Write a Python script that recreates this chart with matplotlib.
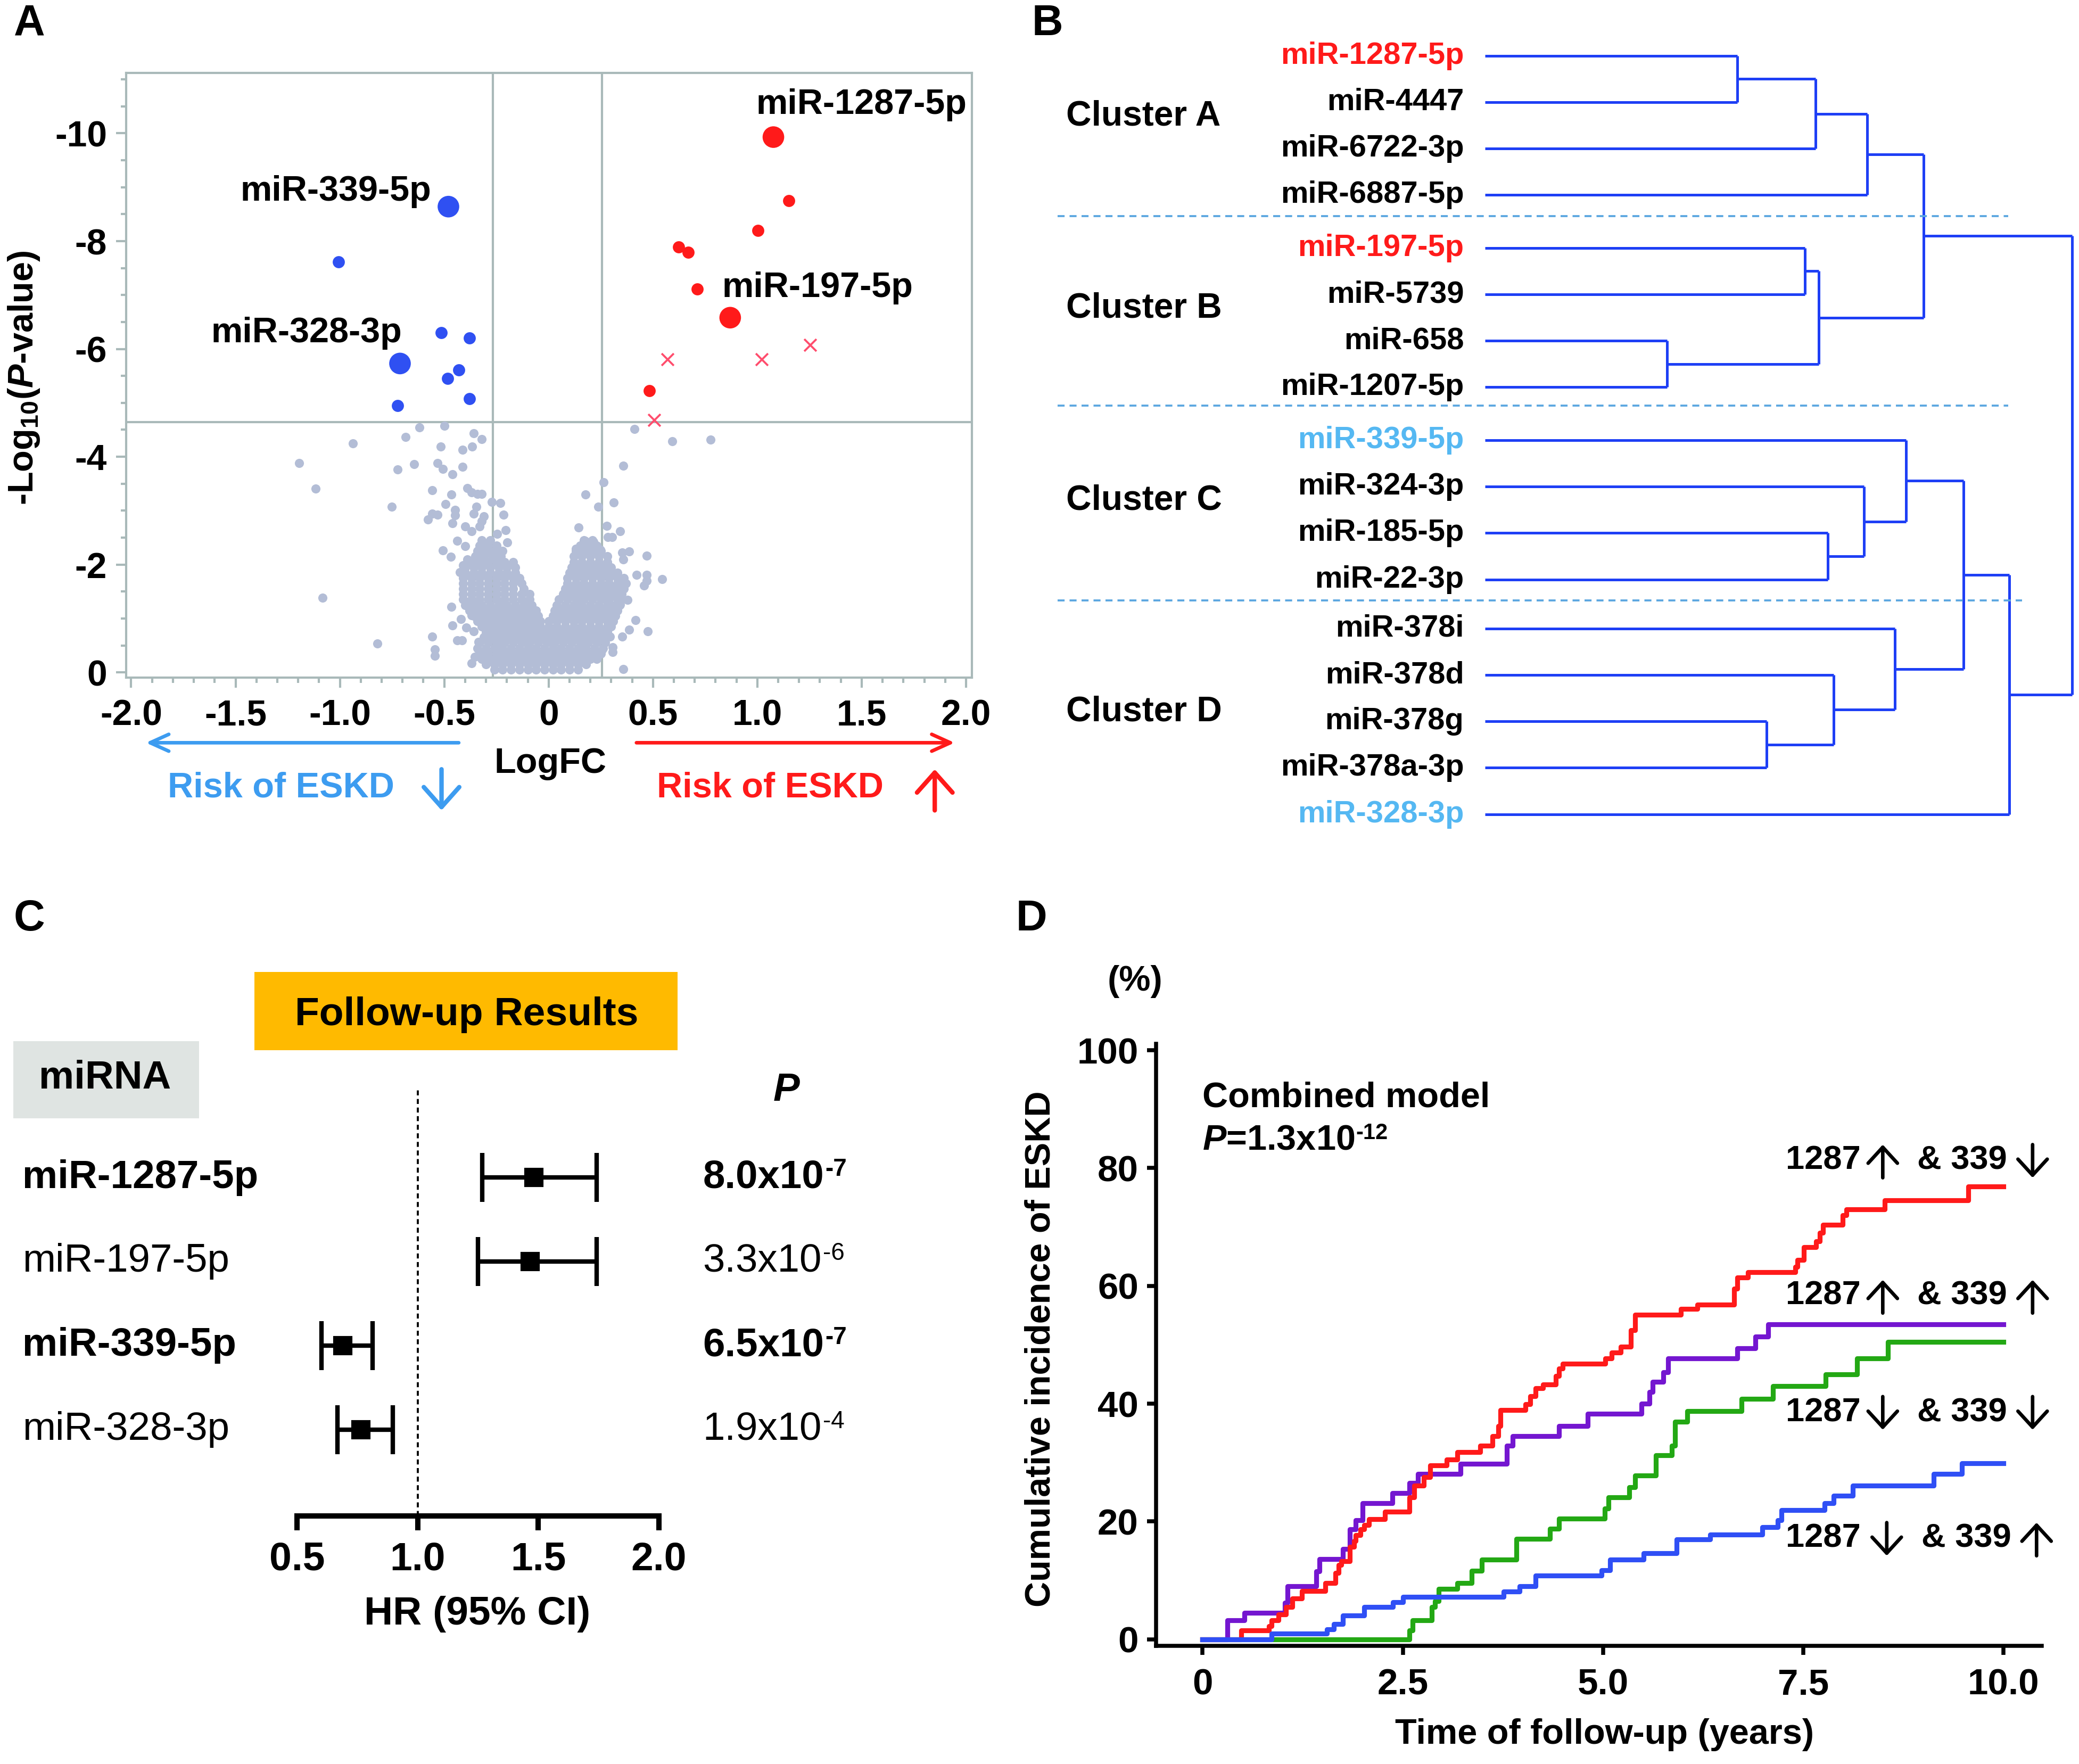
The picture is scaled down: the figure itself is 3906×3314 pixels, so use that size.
# miRNA / ESKD four-panel figure: volcano, dendrogram, forest plot, cumulative incidence
import numpy as np
import matplotlib
matplotlib.use("Agg")
import matplotlib.pyplot as plt
import matplotlib.transforms as mtransforms
from matplotlib import font_manager
from matplotlib.patches import Rectangle, FancyArrowPatch
from matplotlib.ticker import MultipleLocator

names_installed = {f.name for f in font_manager.fontManager.ttflist}
FONT = "Liberation Sans" if "Liberation Sans" in names_installed else "DejaVu Sans"
plt.rcParams["font.family"] = [FONT, "DejaVu Sans"]
plt.rcParams["axes.unicode_minus"] = False
plt.rcParams["mathtext.fontset"] = "custom"
plt.rcParams["mathtext.rm"] = FONT
plt.rcParams["mathtext.bf"] = FONT + ":bold"
plt.rcParams["mathtext.it"] = FONT + ":italic:bold"

# ---------------- data: panel A (logFC, -log10 P) ----------------
big_names = ["miR-1287-5p", "miR-197-5p", "miR-339-5p", "miR-328-3p"]
big_fc = [1.077, 0.870, -0.480, -0.712]
big_lp = [9.93, 6.58, 8.64, 5.73]
big_label_fc = [1.498, 1.288, -1.019, -1.161]
big_label_lp = [10.53, 7.13, 8.92, 6.29]

blue_fc = [-1.006, -0.514, -0.378, -0.430, -0.483, -0.378, -0.724]
blue_lp = [7.61, 6.30, 6.20, 5.61, 5.45, 5.08, 4.95]
red_fc = [1.152, 1.003, 0.622, 0.669, 0.712, 0.483]
red_lp = [8.75, 8.20, 7.89, 7.79, 7.11, 5.23]
cross_fc = [0.570, 1.022, 1.254, 0.505]
cross_lp = [5.81, 5.81, 6.07, 4.68]

fc_cut = [-0.268, 0.256]
lp_cut = 4.64

gray_fc = [-1.195, -1.115, -0.938, -1.084, -0.820, 0.777, -0.619, -0.500, -0.684, -0.518,
           -0.360, -0.320, -0.367, -0.412, -0.645, -0.724, -0.533, -0.508, -0.461, -0.412,
           -0.558, -0.466, -0.390, -0.370, -0.340, -0.320, -0.751, -0.494, -0.447, -0.447,
           -0.578, -0.558, -0.533, -0.345, -0.360, -0.311, -0.461, -0.400, -0.370, -0.330,
           -0.320, -0.271, -0.231, -0.217, -0.207, -0.246, -0.439, -0.400, -0.508, -0.469,
           -0.197, -0.425, -0.410, -0.390, -0.466, -0.380, -0.419, -0.370, -0.461, -0.395,
           -0.360, -0.558, -0.439, -0.414, -0.546, -0.546, -0.335, -0.355, -0.370, 0.412,
           0.592, 0.357, 0.263, 0.177, 0.238, 0.313, 0.144, 0.278, 0.342, 0.283,
           0.303, 0.174, 0.214, 0.130, 0.248, 0.352, 0.387, 0.471, 0.357, 0.421,
           0.471, 0.471, 0.545, 0.456, 0.377, 0.342, 0.416, 0.387, 0.352, 0.476,
           0.293, 0.308, 0.308, 0.357, 0.253]
gray_lp = [3.88, 3.41, 4.25, 1.38, 0.53, 4.32, 4.54, 4.57, 4.37, 4.19,
           4.44, 4.33, 4.19, 4.13, 3.86, 3.76, 3.88, 3.77, 3.67, 3.81,
           3.38, 3.30, 3.42, 3.34, 3.31, 3.31, 3.07, 3.12, 3.01, 2.91,
           2.84, 2.94, 2.92, 3.07, 2.94, 2.89, 2.77, 2.71, 2.62, 2.71,
           2.81, 3.16, 3.14, 2.92, 2.64, 2.57, 2.44, 2.34, 2.26, 2.14,
           2.41, 1.86, 1.99, 2.09, 1.22, 1.31, 0.99, 1.06, 0.87, 0.83,
           0.76, 0.66, 0.59, 0.59, 0.43, 0.31, 0.56, 0.29, 0.17, 4.51,
           4.29, 3.83, 3.53, 3.30, 3.07, 3.15, 2.69, 2.72, 2.62, 2.51,
           2.51, 2.44, 2.42, 2.29, 2.27, 2.22, 2.24, 2.16, 2.09, 1.81,
           1.81, 1.70, 1.73, 1.61, 1.34, 1.26, 0.97, 0.79, 0.66, 0.76,
           0.66, 0.47, 0.38, 0.06, 0.40]

# dense part of the cloud, read row by row (-log10 P, logFC values)
cloud_rows = [
    (0.05, [-0.26, -0.22, -0.18, -0.14, -0.10, -0.06, -0.02, 0.02, 0.06, 0.10, 0.14]),
    (0.15, [-0.30, -0.26, -0.22, -0.18, -0.14, -0.10, -0.06, -0.02, 0.02, 0.06, 0.10, 0.14, 0.18]),
    (0.25, [-0.32, -0.28, -0.24, -0.20, -0.16, -0.12, -0.08, -0.04, 0.00, 0.04, 0.08, 0.12, 0.16, 0.20, 0.23]),
    (0.35, [-0.33, -0.29, -0.25, -0.21, -0.17, -0.13, -0.09, -0.05, -0.01, 0.03, 0.07, 0.11, 0.15, 0.19, 0.23, 0.25]),
    (0.45, [-0.34, -0.30, -0.26, -0.22, -0.18, -0.14, -0.10, -0.06, -0.02, 0.02, 0.06, 0.10, 0.14, 0.18, 0.22, 0.26]),
    (0.55, [-0.33, -0.29, -0.25, -0.21, -0.17, -0.13, -0.09, -0.05, -0.01, 0.03, 0.07, 0.11, 0.15, 0.19, 0.23, 0.27]),
    (0.65, [-0.31, -0.27, -0.23, -0.19, -0.15, -0.11, -0.07, -0.03, 0.01, 0.05, 0.09, 0.13, 0.17, 0.21, 0.25, 0.27]),
    (0.75, [-0.30, -0.26, -0.22, -0.18, -0.14, -0.10, -0.06, -0.02, 0.02, 0.06, 0.10, 0.14, 0.18, 0.22, 0.26, 0.28]),
    (0.85, [-0.32, -0.28, -0.24, -0.20, -0.16, -0.12, -0.08, -0.04, 0.00, 0.04, 0.08, 0.12, 0.16, 0.20, 0.24, 0.28, 0.30]),
    (0.95, [-0.34, -0.30, -0.26, -0.22, -0.18, -0.14, -0.10, -0.06, -0.04, 0.00, 0.04, 0.08, 0.12, 0.16, 0.20, 0.24, 0.28, 0.31]),
    (1.05, [-0.36, -0.32, -0.28, -0.24, -0.20, -0.16, -0.12, -0.08, -0.05, 0.02, 0.06, 0.10, 0.14, 0.18, 0.22, 0.26, 0.30, 0.32]),
    (1.15, [-0.38, -0.34, -0.30, -0.26, -0.22, -0.18, -0.14, -0.10, -0.06, 0.03, 0.07, 0.11, 0.15, 0.19, 0.23, 0.27, 0.31, 0.33]),
    (1.25, [-0.40, -0.36, -0.32, -0.28, -0.24, -0.20, -0.16, -0.12, -0.08, 0.04, 0.08, 0.12, 0.16, 0.20, 0.24, 0.28, 0.32, 0.34]),
    (1.35, [-0.41, -0.37, -0.33, -0.29, -0.25, -0.21, -0.17, -0.13, -0.09, 0.05, 0.09, 0.13, 0.17, 0.21, 0.25, 0.29, 0.33, 0.35]),
    (1.45, [-0.41, -0.37, -0.33, -0.29, -0.25, -0.21, -0.17, -0.13, -0.09, 0.07, 0.11, 0.15, 0.19, 0.23, 0.27, 0.31, 0.35]),
    (1.55, [-0.41, -0.37, -0.33, -0.29, -0.25, -0.21, -0.17, -0.12, 0.08, 0.12, 0.16, 0.20, 0.24, 0.28, 0.32, 0.36]),
    (1.65, [-0.41, -0.37, -0.33, -0.29, -0.25, -0.21, -0.17, -0.13, 0.09, 0.13, 0.17, 0.21, 0.25, 0.29, 0.33, 0.37]),
    (1.75, [-0.41, -0.37, -0.33, -0.29, -0.25, -0.21, -0.17, -0.14, 0.09, 0.13, 0.17, 0.21, 0.25, 0.29, 0.33, 0.36]),
    (1.85, [-0.40, -0.36, -0.32, -0.28, -0.24, -0.20, -0.16, 0.10, 0.14, 0.18, 0.22, 0.26, 0.30, 0.33]),
    (1.95, [-0.40, -0.36, -0.32, -0.28, -0.24, -0.20, -0.16, 0.11, 0.15, 0.19, 0.23, 0.27, 0.30]),
    (2.05, [-0.37, -0.33, -0.29, -0.25, -0.21, -0.17, 0.12, 0.16, 0.20, 0.24, 0.28]),
    (2.15, [-0.35, -0.31, -0.27, -0.23, 0.12, 0.16, 0.20, 0.24, 0.28]),
    (2.25, [-0.34, -0.30, -0.26, -0.22, 0.13, 0.17, 0.21, 0.25]),
    (2.35, [-0.33, -0.29, -0.25, 0.15, 0.19, 0.23]),
    (2.45, [-0.32, -0.28, 0.17, 0.21]),
]

# ---------------- data: panel B (dendrogram) ----------------
clusters = ["Cluster A", "Cluster B", "Cluster C", "Cluster D"]
leaves = [
    ("miR-1287-5p", 0), ("miR-4447", 0), ("miR-6722-3p", 0), ("miR-6887-5p", 0),
    ("miR-197-5p", 1), ("miR-5739", 1), ("miR-658", 1), ("miR-1207-5p", 1),
    ("miR-339-5p", 2), ("miR-324-3p", 2), ("miR-185-5p", 2), ("miR-22-3p", 2),
    ("miR-378i", 3), ("miR-378d", 3), ("miR-378g", 3), ("miR-378a-3p", 3), ("miR-328-3p", 3),
]
up_mirs = ["miR-1287-5p", "miR-197-5p"]
down_mirs = ["miR-339-5p", "miR-328-3p"]
# (child, child, height); ints refer to earlier merges
merges = [
    ("miR-1287-5p", "miR-4447", 372),
    (0, "miR-6722-3p", 487),
    (1, "miR-6887-5p", 563),
    ("miR-197-5p", "miR-5739", 471),
    ("miR-658", "miR-1207-5p", 268),
    (3, 4, 492),
    (2, 5, 646),
    ("miR-185-5p", "miR-22-3p", 505),
    ("miR-324-3p", 7, 558),
    ("miR-339-5p", 8, 620),
    ("miR-378g", "miR-378a-3p", 415),
    ("miR-378d", 10, 514),
    ("miR-378i", 11, 604),
    (9, 12, 705),
    (13, "miR-328-3p", 772),
    (6, 14, 865),
]

# ---------------- data: panel C (hazard ratios) ----------------
hr_names = ["miR-1287-5p", "miR-197-5p", "miR-339-5p", "miR-328-3p"]
hr_bold = [True, False, True, False]
hr = [1.481, 1.465, 0.690, 0.765]
hr_lo = [1.267, 1.251, 0.602, 0.668]
hr_hi = [1.741, 1.741, 0.813, 0.896]
p_mant = ["8.0", "3.3", "6.5", "1.9"]
p_exp = ["-7", "-6", "-7", "-4"]

# ---------------- data: panel D (cumulative incidence, %) ----------------
red_t = [0, 0.48, 0.83, 0.86, 0.95, 1.04, 1.12, 1.24, 1.53, 1.66, 1.70, 1.73, 1.84, 1.89, 1.91,
         1.97, 2.02, 2.08, 2.28, 2.58, 2.64, 2.76, 2.84, 3.05, 3.18, 3.47, 3.62, 3.69, 3.72,
         4.03, 4.09, 4.16, 4.25, 4.41, 4.45, 4.50, 5.03, 5.11, 5.22, 5.35, 5.40, 5.97, 6.18,
         6.64, 6.68, 6.81, 7.40, 7.43, 7.51, 7.66, 7.71, 7.75, 7.99, 8.04, 8.52, 9.56, 10.0]
red_y = [0, 1.5, 2.2, 3.2, 4.2, 5.5, 6.9, 8.2, 9.6, 11.3, 12.6, 13.3, 15.7, 16.7, 17.7,
         18.7, 19.4, 20.4, 21.7, 24.1, 26.1, 27.5, 29.5, 30.5, 31.8, 32.9, 34.5, 36.2, 38.9,
         39.9, 41.3, 42.6, 43.3, 44.7, 46.0, 46.8, 47.7, 48.7, 49.7, 52.5, 55.1, 56.1, 56.8,
         59.5, 61.4, 62.3, 63.2, 64.4, 66.6, 67.6, 69.0, 70.4, 72.0, 73.0, 74.5, 76.9, 76.9]
purple_t = [0, 0.31, 0.52, 1.03, 1.06, 1.42, 1.46, 1.75, 1.84, 1.91, 2.00, 2.37, 2.58, 2.69,
            3.22, 3.80, 3.87, 4.45, 4.81, 5.48, 5.58, 5.62, 5.75, 5.81, 6.68, 6.90, 7.06, 10.0]
purple_y = [0, 3.2, 4.5, 6.2, 9.0, 11.5, 13.6, 15.3, 18.7, 20.2, 23.1, 24.8, 26.5, 28.1,
            29.8, 32.9, 34.5, 36.2, 38.3, 40.0, 42.0, 43.7, 45.3, 47.7, 49.4, 51.4, 53.5, 53.5]
green_t = [0, 2.58, 2.62, 2.86, 2.90, 2.95, 3.18, 3.36, 3.49, 3.92, 4.34, 4.45, 5.02, 5.07,
           5.33, 5.40, 5.66, 5.86, 5.90, 6.05, 6.73, 7.12, 7.78, 8.17, 8.56, 10.0]
green_y = [0, 1.5, 3.2, 5.5, 6.5, 8.6, 9.6, 11.6, 13.5, 17.1, 18.8, 20.5, 22.2, 24.1,
           25.8, 27.8, 31.2, 32.9, 36.9, 38.7, 40.8, 43.0, 45.0, 47.7, 50.5, 50.5]
blue_t = [0, 0.86, 1.55, 1.64, 1.75, 2.02, 2.38, 2.50, 3.76, 3.96, 4.16, 4.98, 5.09, 5.51,
          5.92, 6.34, 6.99, 7.18, 7.23, 7.77, 7.88, 8.12, 9.13, 9.48, 10.0]
blue_y = [0, 1.0, 1.7, 2.6, 4.0, 5.5, 6.3, 7.2, 8.1, 9.0, 10.8, 11.7, 13.5, 14.6,
          17.0, 17.8, 19.0, 20.2, 21.9, 23.1, 24.4, 26.1, 28.1, 29.9, 29.9]
# group labels: direction of miR-1287 and miR-339 in each group
group_dirs = [("up", "down"), ("up", "up"), ("down", "down"), ("down", "up")]

# ---------------- layout helpers (reference measured on a 1568 x 1330 grid) ----------------
W, H = 1568.0, 1330.0


def fx(x):
    return x / W


def fy(y):
    return 1 - y / H


def fig_arrow(x0, y0, x1, y1, color, lw, hl, hw):
    fig.add_artist(FancyArrowPatch((fx(x0), fy(y0)), (fx(x1), fy(y1)),
                                   transform=fig.transFigure,
                                   arrowstyle=f"->,head_length={hl},head_width={hw}",
                                   mutation_scale=20, lw=lw, color=color,
                                   shrinkA=0, shrinkB=0))


def sup(ax, base, txt, size, weight):
    # small superscript placed at the top right corner of another text
    ax.annotate(txt, xy=(1, 1), xycoords=base, xytext=(0.5, 0.5), textcoords="offset points",
                ha="left", va="top", fontsize=size, fontweight=weight)


GRAY = "#b3bdd6"
BLUE = "#2f50f2"
RED = "#ff1a1a"
PINK = "#ff4d6d"
FRAME = "#a9b9b9"
LIGHTBLUE = "#3d9cf0"
FS = 16

fig = plt.figure(figsize=(3906 / 300, 3314 / 300), dpi=300)

# ======================= A =======================
axA = fig.add_axes([fx(95), fy(511), (733 - 95) / W, (511 - 55) / H])
cloud_fc = [x for y, xs in cloud_rows for x in xs]
cloud_lp = [y for y, xs in cloud_rows for x in xs]
axA.scatter(cloud_fc, -np.array(cloud_lp), s=17, color=GRAY, lw=0, zorder=2)
axA.scatter(gray_fc, -np.array(gray_lp), s=17, color=GRAY, lw=0, zorder=2)
axA.scatter(blue_fc, -np.array(blue_lp), s=30, color=BLUE, lw=0, zorder=4)
axA.scatter(red_fc, -np.array(red_lp), s=30, color=RED, lw=0, zorder=4)
axA.scatter(cross_fc, -np.array(cross_lp), s=30, marker="x", color=PINK, lw=0.9, zorder=4)
big_cols = [RED, RED, BLUE, BLUE]
axA.scatter(big_fc, -np.array(big_lp), s=95, color=big_cols, lw=0, zorder=5)
for nm, lx, ly in zip(big_names, big_label_fc, big_label_lp):
    axA.text(lx, -ly, nm, ha="center", va="center", fontsize=FS, fontweight="bold", zorder=6)
for c in fc_cut:
    axA.axvline(c, color=FRAME, lw=1.0, zorder=1)
axA.axhline(-lp_cut, color=FRAME, lw=1.0, zorder=1)

axA.set_xlim(-2.025, 2.028)
axA.set_ylim(0.1, -11.12)
axA.set_xticks([-2, -1.5, -1, -0.5, 0, 0.5, 1, 1.5, 2])
axA.set_xticklabels(["-2.0", "-1.5", "-1.0", "-0.5", "0", "0.5", "1.0", "1.5", "2.0"])
axA.set_yticks([0, -2, -4, -6, -8, -10])
axA.set_yticklabels(["0", "-2", "-4", "-6", "-8", "-10"])
axA.xaxis.set_minor_locator(MultipleLocator(0.1))
axA.yaxis.set_minor_locator(MultipleLocator(0.5))
axA.tick_params(which="both", direction="out", color=FRAME, width=1.0)
axA.tick_params(which="major", length=4.5, labelsize=16.3)
axA.tick_params(which="minor", length=2.5)
axA.tick_params(axis="x", which="major", pad=5)
axA.tick_params(axis="y", which="major", pad=4)
for lbl in axA.get_xticklabels() + axA.get_yticklabels():
    lbl.set_fontweight("bold")
for sp in axA.spines.values():
    sp.set_color(FRAME)
    sp.set_linewidth(1.0)

fig.text(fx(18), fy(285), r"-Log$_{\mathbf{10}}$($\mathit{P}$-value)", rotation=90,
         ha="center", va="center", fontsize=FS, fontweight="bold")
fig.text(fx(415), fy(576), "LogFC", ha="center", va="center", fontsize=FS, fontweight="bold")
fig_arrow(346, 560, 110, 560, LIGHTBLUE, 1.6, 0.42, 0.19)
fig_arrow(480, 560, 720, 560, RED, 1.6, 0.42, 0.19)
fig.text(fx(212), fy(594), "Risk of ESKD", ha="center", va="center", fontsize=FS,
         fontweight="bold", color=LIGHTBLUE)
fig.text(fx(581), fy(594), "Risk of ESKD", ha="center", va="center", fontsize=FS,
         fontweight="bold", color=RED)
fig_arrow(333, 580, 333, 611, LIGHTBLUE, 2.0, 0.45, 0.4)
fig_arrow(705, 611, 705, 580, RED, 2.0, 0.45, 0.4)

# ======================= B =======================
axB = fig.add_axes([0.5, fy(640), 0.5, 620 / H])
axB.set_xlim(-656, 875)
axB.set_ylim(17.09, -0.629)
axB.axis("off")
cluster_gap = [0.0, 0.143, 0.286, 0.343]
leaf_pos = {}
for i, (nm, cl) in enumerate(leaves):
    leaf_pos[nm] = i + cluster_gap[cl]
DEND = "#1e3ff5"
node_pos = []
for a, b, h in merges:
    ys = []
    for ch in (a, b):
        if isinstance(ch, str):
            cx, cy = 0, leaf_pos[ch]
        else:
            cx, cy = merges[ch][2], node_pos[ch]
        axB.plot([cx, h], [cy, cy], color=DEND, lw=1.2, solid_capstyle="butt")
        ys.append(cy)
    axB.plot([h, h], ys, color=DEND, lw=1.2, solid_capstyle="butt")
    node_pos.append(np.mean(ys))
for nm, cl in leaves:
    col = RED if nm in up_mirs else ("#55b8f2" if nm in down_mirs else "black")
    axB.text(-31, leaf_pos[nm], nm, ha="right", va="center", fontsize=13.9,
             fontweight="bold", color=col)
for k, cname in enumerate(clusters):
    ps = [leaf_pos[nm] for nm, cl in leaves if cl == k]
    axB.text(-617, np.mean(ps) - 0.2, cname, ha="left", va="center", fontsize=15.8,
             fontweight="bold")
sep_y = [3.46, 7.54, 11.74]
sep_x1 = [771, 771, 791]
for yy, x1 in zip(sep_y, sep_x1):
    axB.plot([-629, x1], [yy, yy], color="#5aa6e0", lw=0.9, ls=(0, (3.5, 2.5)), clip_on=False)

# ======================= C =======================
axC = fig.add_axes([fx(224), fy(1143), 273 / W, 323 / H])
rows = np.arange(len(hr))
axC.set_xlim(0.5, 2.0)
axC.set_ylim(4.03, -1.07)
err = [np.array(hr) - np.array(hr_lo), np.array(hr_hi) - np.array(hr)]
axC.errorbar(hr, rows, xerr=err, fmt="s", color="black", ms=7.5, lw=2.0,
             capsize=11, capthick=2.0, zorder=3)
axC.axvline(1.0, color="black", lw=0.9, ls=(0, (2.5, 1.8)), zorder=1)
for s in ["top", "right", "left"]:
    axC.spines[s].set_visible(False)
axC.spines["bottom"].set_linewidth(2.4)
axC.set_yticks([])
axC.set_xticks([0.5, 1.0, 1.5, 2.0])
axC.set_xticklabels(["0.5", "1.0", "1.5", "2.0"])
axC.tick_params(axis="x", length=6.5, width=2.4, labelsize=18, pad=5)
for lbl in axC.get_xticklabels():
    lbl.set_fontweight("bold")
fig.text(fx(360), fy(1217), "HR (95% CI)", ha="center", va="center", fontsize=18,
         fontweight="bold")

trC = mtransforms.blended_transform_factory(fig.transFigure, axC.transData)
for r, nm, bold, m, e in zip(rows, hr_names, hr_bold, p_mant, p_exp):
    w = "bold" if bold else "normal"
    axC.text(fx(17), r, nm, transform=trC, ha="left", va="center", fontsize=17.9, fontweight=w)
    base = axC.text(fx(530), r, m + "x10", transform=trC, ha="left", va="center",
                    fontsize=17.9, fontweight=w)
    sup(axC, base, e, 11, w)

fig.add_artist(Rectangle((fx(192), fy(792)), 319 / W, 59 / H, transform=fig.transFigure,
                         facecolor="#ffba00", edgecolor="none", zorder=0))
fig.text(fx(352), fy(765), "Follow-up Results", ha="center", va="center", fontsize=18,
         fontweight="bold")
fig.add_artist(Rectangle((fx(10), fy(843)), 140 / W, 58 / H, transform=fig.transFigure,
                         facecolor="#dfe4e2", edgecolor="none", zorder=0))
fig.text(fx(79), fy(813), "miRNA", ha="center", va="center", fontsize=17.9, fontweight="bold")
fig.text(fx(593), fy(822), "P", ha="center", va="center", fontsize=17.9, fontweight="bold",
         style="italic")

# ======================= D =======================
axD = fig.add_axes([fx(872), fy(1241), 668 / W, 454 / H])
axD.step(green_t, green_y, where="post", color="#23a814", lw=2.2)
axD.step(purple_t, purple_y, where="post", color="#7416d0", lw=2.2)
axD.step(red_t, red_y, where="post", color=RED, lw=2.2)
axD.step(blue_t, blue_y, where="post", color="#2f4ff5", lw=2.2)
axD.set_xlim(-0.579, 10.48)
axD.set_ylim(-1.13, 101.1)
axD.spines["top"].set_visible(False)
axD.spines["right"].set_visible(False)
axD.spines["left"].set_linewidth(1.8)
axD.spines["bottom"].set_linewidth(1.8)
axD.set_xticks([0, 2.5, 5, 7.5, 10])
axD.set_xticklabels(["0", "2.5", "5.0", "7.5", "10.0"])
axD.set_yticks([0, 20, 40, 60, 80, 100])
axD.tick_params(length=4, width=1.8, labelsize=16.6)
axD.tick_params(axis="x", pad=6)
axD.tick_params(axis="y", pad=4)
for lbl in axD.get_xticklabels() + axD.get_yticklabels():
    lbl.set_fontweight("bold")
axD.text(0, 91.9, "Combined model", ha="left", va="center", fontsize=FS, fontweight="bold")
pD = axD.text(0, 84.7, r"$\mathit{P}$=1.3x10", ha="left", va="center", fontsize=FS,
              fontweight="bold")
sup(axD, pD, "-12", 10, "bold")

# group labels: text pieces plus drawn arrows
label_rows = [875, 977, 1065, 1160]
for (d1, d2), yc in zip(group_dirs, label_rows):
    shift = 3 if (d1, d2) == ("down", "up") else 0
    fig.text(fx(1347), fy(yc), "1287", ha="left", va="center", fontsize=15.2, fontweight="bold")
    fig.text(fx(1446 + shift), fy(yc), "& 339", ha="left", va="center", fontsize=15.2,
             fontweight="bold")
    for xa, d in ((1420 + shift, d1), (1533 + shift, d2)):
        if d == "up":
            fig_arrow(xa, yc + 13, xa, yc - 12, "black", 1.6, 0.36, 0.33)
        else:
            fig_arrow(xa, yc - 12, xa, yc + 13, "black", 1.6, 0.36, 0.33)

fig.text(fx(856), fy(740), "(%)", ha="center", va="center", fontsize=FS, fontweight="bold")
fig.text(fx(785), fy(1017), "Cumulative incidence of ESKD", rotation=90, ha="center",
         va="center", fontsize=FS, fontweight="bold")
fig.text(fx(1210), fy(1308), "Time of follow-up (years)", ha="center", va="center",
         fontsize=FS, fontweight="bold")

# panel letters
for letter, lx, ly in [("A", 22, 18), ("B", 790, 18), ("C", 22, 693), ("D", 778, 693)]:
    fig.text(fx(lx), fy(ly), letter, ha="center", va="center", fontsize=19.5, fontweight="bold")

fig.savefig("out.png", dpi=300)
